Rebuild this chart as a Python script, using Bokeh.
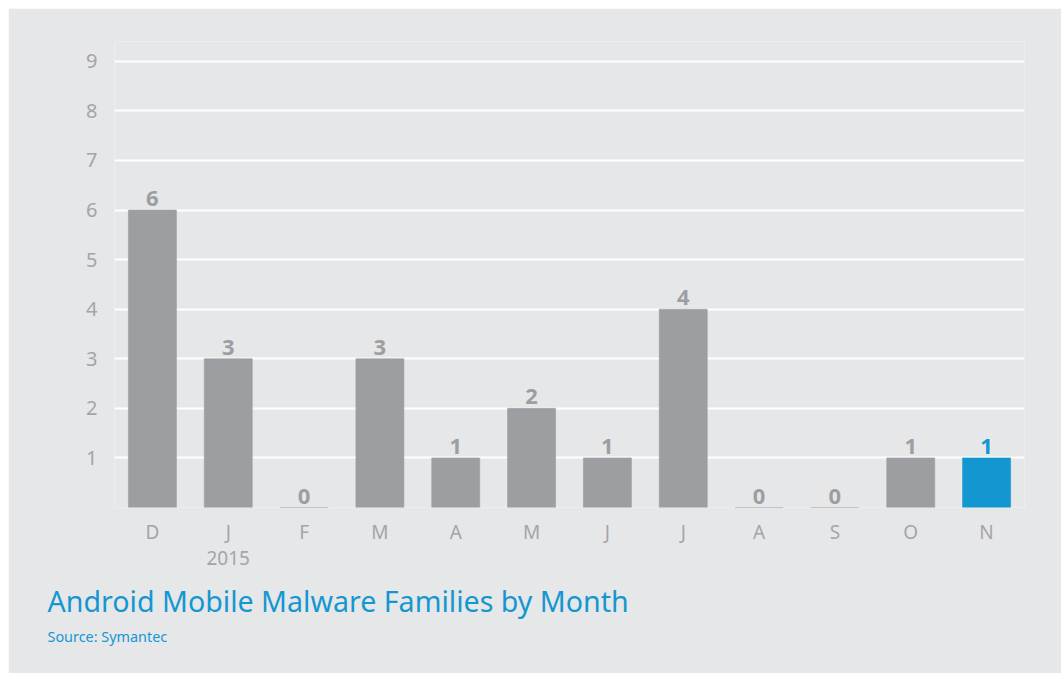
from bokeh.plotting import figure
from bokeh.models import ColumnDataSource, Range1d, FixedTicker, Title
from bokeh.core.properties import value
from bokeh.embed import file_html
from bokeh.resources import INLINE

months = ["D", "J", "F", "M", "A", "M", "J", "J", "A", "S", "O", "N"]
year_note = {1: "2015"}
counts = [6, 3, 0, 3, 1, 2, 1, 4, 0, 0, 1, 1]
highlight_index = 11
chart_title = "Android Mobile Malware Families by Month"
source_note = "Source: Symantec"

BG = "#e6e7e8"
GRAY = "#9d9ea1"
BLUE = "#1497d1"
TICK = "#a3a5a8"
FONT = "Noto Sans"

xs = list(range(len(months)))
bar_colors = [BLUE if i == highlight_index else GRAY for i in xs]
src = ColumnDataSource(dict(
    x=xs, top=counts, color=bar_colors,
    label=[str(c) for c in counts],
))

p = figure(width=1053, height=665, output_backend="svg", toolbar_location=None,
           x_range=Range1d(-0.5, len(months) - 0.5), y_range=Range1d(0, 9.4),
           min_border_left=106, min_border_right=37, min_border_top=33,
           min_border_bottom=166)
p.margin = (8, 0, 0, 8)
p.background_fill_color = BG
p.border_fill_color = BG
p.outline_line_color = None

p.vbar(x="x", top="top", width=0.633, bottom=0, fill_color="color",
       line_color="color", line_alpha=0.6, source=src)
p.text(x="x", y="top", text="label", text_color="color", source=src,
       text_align="center", text_baseline="bottom", y_offset=-4,
       text_font=value(FONT), text_font_size="22px", text_font_style="bold")

# x axis
p.xaxis.ticker = FixedTicker(ticks=xs)
p.xaxis.major_label_overrides = {
    i: (m + "\n" + year_note[i]) if i in year_note else m for i, m in enumerate(months)
}
p.xaxis.axis_line_color = None
p.xaxis.major_tick_line_color = None
p.xaxis.minor_tick_line_color = None
p.xaxis.major_label_standoff = 5
p.xaxis.major_label_text_font = FONT
p.xaxis.major_label_text_font_size = "19px"
p.xaxis.major_label_text_color = TICK
p.xaxis.major_label_text_line_height = 1.0

# y axis
p.yaxis.ticker = FixedTicker(ticks=list(range(1, 10)))
p.yaxis.axis_line_color = None
p.yaxis.major_tick_line_color = None
p.yaxis.minor_tick_line_color = None
p.yaxis.major_label_standoff = 11
p.yaxis.major_label_text_font = FONT
p.yaxis.major_label_text_font_size = "20px"
p.yaxis.major_label_text_color = TICK

p.xgrid.grid_line_color = None
p.ygrid.ticker = FixedTicker(ticks=list(range(0, 10)))
p.ygrid.grid_line_color = "white"
p.ygrid.grid_line_width = 2

p.add_layout(Title(text=chart_title, align="left", offset=-67, standoff=10,
                   text_font=FONT, text_font_size="28.6px", text_color=BLUE,
                   text_font_style="normal"), "below")
p.add_layout(Title(text=source_note, align="left", offset=-67, standoff=1,
                   text_font=FONT, text_font_size="14.4px", text_color=BLUE,
                   text_font_style="normal"), "below")

open("out.html", "w").write(file_html(p, INLINE))
